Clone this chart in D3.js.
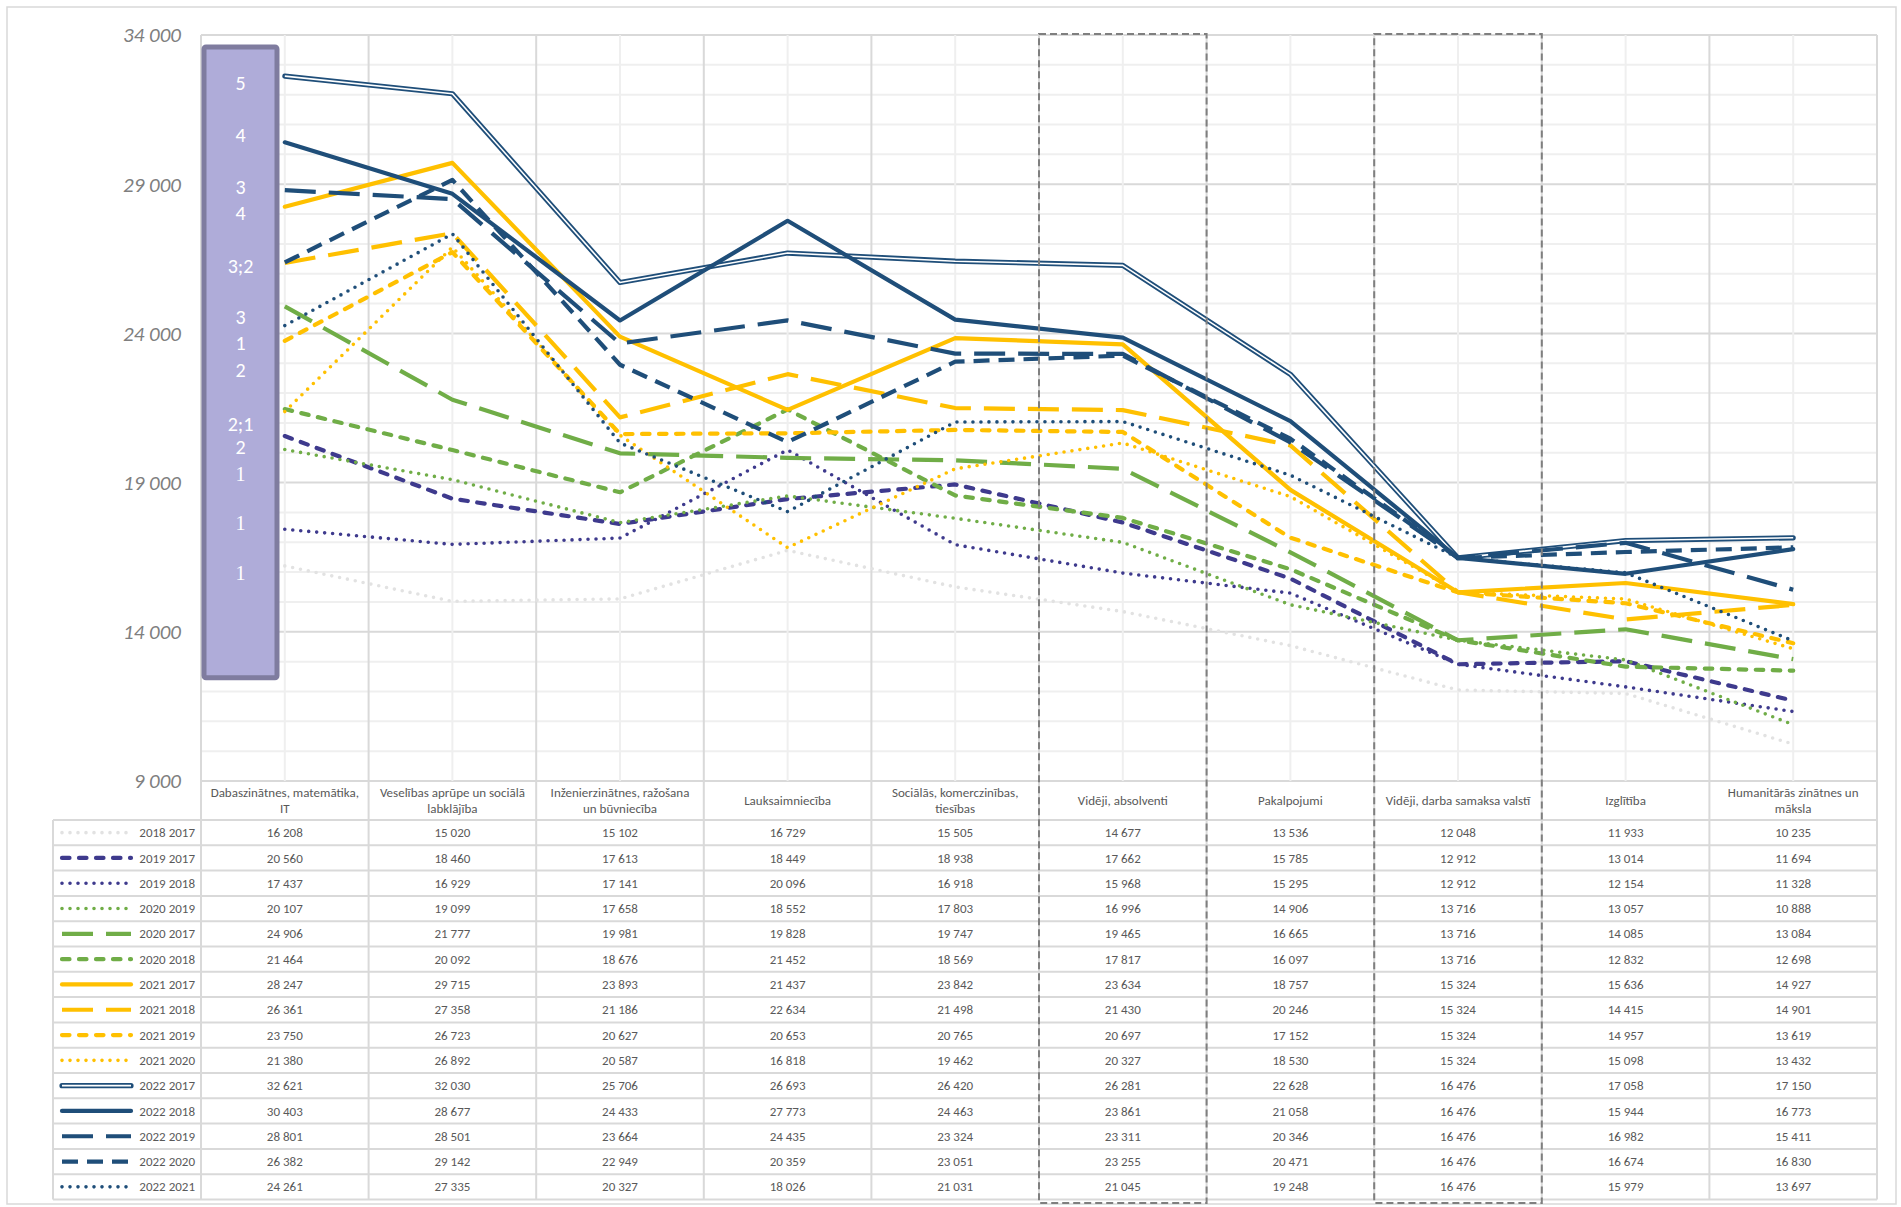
<!DOCTYPE html>
<html lang="lv">
<head>
  <meta charset="UTF-8">
  <title></title>
  <style>
    html, body {
      margin: 0;
      overflow: hidden;
      width: 100%;
      height: 100%;
      background: #fff;
    }

    svg {
      position: absolute;
      top: 0;
      left: 0;
      width: 1901px;
      height: 1207px;
      font-family: Carlito, Lato, 'Open Sans', sans-serif;
    }
  </style>
</head>
<body>
  <svg></svg>
</body>
<script src="https://d3js.org/d3.v7.min.js"></script>
<script type="text/javascript">
  const svg = d3.select('svg')

  const categories = [
    'Dabaszinātnes, matemātika,\nIT',
    'Veselības aprūpe un sociālā\nlabklājība',
    'Inženierzinātnes, ražošana\nun būvniecība',
    'Lauksaimniecība',
    'Sociālās, komerczinības,\ntiesības',
    'Vidēji, absolventi',
    'Pakalpojumi',
    'Vidēji, darba samaksa valstī',
    'Izglītība',
    'Humanitārās zinātnes un\nmāksla'
  ]

  const seriesNames = [
    '2018 2017', '2019 2017', '2019 2018', '2020 2019', '2020 2017',
    '2020 2018', '2021 2017', '2021 2018', '2021 2019', '2021 2020',
    '2022 2017', '2022 2018', '2022 2019', '2022 2020', '2022 2021'
  ]

  const s2018_2017 = [16208, 15020, 15102, 16729, 15505, 14677, 13536, 12048, 11933, 10235]
  const s2019_2017 = [20560, 18460, 17613, 18449, 18938, 17662, 15785, 12912, 13014, 11694]
  const s2019_2018 = [17437, 16929, 17141, 20096, 16918, 15968, 15295, 12912, 12154, 11328]
  const s2020_2019 = [20107, 19099, 17658, 18552, 17803, 16996, 14906, 13716, 13057, 10888]
  const s2020_2017 = [24906, 21777, 19981, 19828, 19747, 19465, 16665, 13716, 14085, 13084]
  const s2020_2018 = [21464, 20092, 18676, 21452, 18569, 17817, 16097, 13716, 12832, 12698]
  const s2021_2017 = [28247, 29715, 23893, 21437, 23842, 23634, 18757, 15324, 15636, 14927]
  const s2021_2018 = [26361, 27358, 21186, 22634, 21498, 21430, 20246, 15324, 14415, 14901]
  const s2021_2019 = [23750, 26723, 20627, 20653, 20765, 20697, 17152, 15324, 14957, 13619]
  const s2021_2020 = [21380, 26892, 20587, 16818, 19462, 20327, 18530, 15324, 15098, 13432]
  const s2022_2017 = [32621, 32030, 25706, 26693, 26420, 26281, 22628, 16476, 17058, 17150]
  const s2022_2018 = [30403, 28677, 24433, 27773, 24463, 23861, 21058, 16476, 15944, 16773]
  const s2022_2019 = [28801, 28501, 23664, 24435, 23324, 23311, 20346, 16476, 16982, 15411]
  const s2022_2020 = [26382, 29142, 22949, 20359, 23051, 23255, 20471, 16476, 16674, 16830]
  const s2022_2021 = [24261, 27335, 20327, 18026, 21031, 21045, 19248, 16476, 15979, 13697]

  const seriesValues = [
    s2018_2017, s2019_2017, s2019_2018, s2020_2019, s2020_2017,
    s2020_2018, s2021_2017, s2021_2018, s2021_2019, s2021_2020,
    s2022_2017, s2022_2018, s2022_2019, s2022_2020, s2022_2021
  ]

  const yTicks = [9000, 14000, 19000, 24000, 29000, 34000]

  // labels in the violet box, placed by value on the y axis
  const boxLabels = ['5', '4', '3', '4', '3;2', '3', '1', '2', '2;1', '2', '1', '1', '1']
  const boxLabelAt = [32390, 30650, 28900, 28030, 26250, 24540, 23670, 22760, 20980, 20180, 19300, 17660, 15980]

  // boxed (dashed) columns
  const highlighted = ['Vidēji, absolventi', 'Vidēji, darba samaksa valstī']

  // ---- styles ----
  const navy = '#1f4e79', yellow = '#ffc000', green = '#70ad47', violet = '#3e3a8d', lightGray = '#e2e2e2'
  const dot = { dash: '0,8', cap: 'round', w: 3.6 }
  const sysDash = { dash: '7.5,9.5', cap: 'round', w: 4.2 }
  const dash = { dash: '16,9', cap: 'butt', w: 4.2 }
  const lgDash = { dash: '31,13', cap: 'butt', w: 4.2 }
  const solid = { dash: null, cap: 'round', w: 4.2 }
  const styles = {
    '2018 2017': { color: lightGray, ...dot },
    '2019 2017': { color: violet, ...sysDash },
    '2019 2018': { color: violet, ...dot },
    '2020 2019': { color: green, ...dot },
    '2020 2017': { color: green, ...lgDash },
    '2020 2018': { color: green, ...sysDash },
    '2021 2017': { color: yellow, ...solid },
    '2021 2018': { color: yellow, ...lgDash },
    '2021 2019': { color: yellow, ...sysDash },
    '2021 2020': { color: yellow, ...dot },
    '2022 2017': { color: navy, ...solid, w: 5.2, double: true },
    '2022 2018': { color: navy, ...solid },
    '2022 2019': { color: navy, ...lgDash },
    '2022 2020': { color: navy, ...dash },
    '2022 2021': { color: navy, ...dot }
  }

  const plot = { left: 201, right: 1877, top: 35, bottom: 781 }
  const table = { left: 53, top: 820, rowH: 25.3 }
  const gridMajor = '#d9d9d9', gridMinor = '#efefef', textColor = '#595959'

  const x = d3.scaleBand().domain(categories).range([plot.left, plot.right])
  const bw = x.bandwidth()
  const cx = c => x(c) + bw / 2
  const y = d3.scaleLinear().domain([9000, 34000]).range([plot.bottom, plot.top])

  // outer frame
  svg.append('rect')
    .attr('x', 7).attr('y', 7).attr('width', 1889).attr('height', 1197)
    .attr('fill', 'none').attr('stroke', '#d9d9d9').attr('stroke-width', 1.5)

  // horizontal grid
  const g = svg.append('g')
  g.selectAll('line.h')
    .data(d3.range(9000, 34001, 1000))
    .enter().append('line')
    .attr('x1', plot.left).attr('x2', plot.right)
    .attr('y1', d => y(d)).attr('y2', d => y(d))
    .attr('stroke', d => d % 5000 === 4000 ? gridMajor : gridMinor)
    .attr('stroke-width', 2)

  // vertical grid: band centres (minor) and band edges (major)
  g.selectAll('line.vc')
    .data(categories)
    .enter().append('line')
    .attr('x1', cx).attr('x2', cx)
    .attr('y1', plot.top).attr('y2', plot.bottom)
    .attr('stroke', gridMinor).attr('stroke-width', 2)

  const tableBottom = table.top + table.rowH * seriesNames.length
  const edges = categories.map(c => x(c)).concat([plot.right])
  g.selectAll('line.ve')
    .data(edges)
    .enter().append('line')
    .attr('x1', d => d).attr('x2', d => d)
    .attr('y1', plot.top).attr('y2', tableBottom)
    .attr('stroke', gridMajor).attr('stroke-width', 2)

  // table lines
  g.selectAll('line.row')
    .data(d3.range(seriesNames.length + 1))
    .enter().append('line')
    .attr('x1', table.left).attr('x2', plot.right)
    .attr('y1', i => table.top + i * table.rowH).attr('y2', i => table.top + i * table.rowH)
    .attr('stroke', gridMajor).attr('stroke-width', 2)
  g.append('line')
    .attr('x1', table.left).attr('x2', table.left)
    .attr('y1', table.top).attr('y2', tableBottom)
    .attr('stroke', gridMajor).attr('stroke-width', 2)

  // y axis labels
  svg.selectAll('text.ytick')
    .data(yTicks)
    .enter().append('text')
    .attr('x', 181)
    .attr('y', d => y(d))
    .attr('dy', '0.35em')
    .attr('text-anchor', 'end')
    .attr('font-size', 21)
    .attr('font-style', 'italic')
    .attr('fill', '#7f7f7f')
    .text(d => d3.format(',')(d).replace(/,/g, ' '))

  // lines
  const lineGen = d3.line()
    .x((d, i) => cx(categories[i]))
    .y(d => y(d))

  const series = seriesNames.map((name, i) => ({ name, values: seriesValues[i], style: styles[name] }))

  const drawStroke = (sel, st) => {
    sel.attr('fill', 'none')
      .attr('stroke', st.color)
      .attr('stroke-width', st.w)
      .attr('stroke-linecap', st.cap)
      .attr('stroke-linejoin', 'round')
      .attr('stroke-dasharray', st.dash)
    return sel
  }

  const lines = svg.append('g')
  series.forEach(s => {
    drawStroke(lines.append('path').attr('d', lineGen(s.values)), s.style)
    if (s.style.double) {
      lines.append('path').attr('d', lineGen(s.values))
        .attr('fill', 'none').attr('stroke', '#fff').attr('stroke-width', 1.6)
        .attr('stroke-linejoin', 'round')
    }
  })

  // violet box with labels
  const box = svg.append('g')
  box.append('rect')
    .attr('x', plot.left + 3).attr('y', y(33600))
    .attr('width', 73).attr('height', y(12460) - y(33600))
    .attr('rx', 2)
    .attr('fill', '#afacd9').attr('stroke', '#7f7c9f').attr('stroke-width', 5)
  box.selectAll('text')
    .data(boxLabels)
    .enter().append('text')
    .attr('x', plot.left + 39.5)
    .attr('y', (d, i) => y(boxLabelAt[i]))
    .attr('dy', '0.35em')
    .attr('text-anchor', 'middle')
    .attr('font-size', 20)
    .attr('font-family', (d, i) => i >= 10 ? "'Liberation Serif', serif" : null)
    .attr('fill', '#fff')
    .text(d => d)

  // header (category names)
  const header = svg.append('g')
  categories.forEach(c => {
    const parts = c.split('\n')
    const midY = (plot.bottom + table.top) / 2
    const t = header.append('text')
      .attr('text-anchor', 'middle')
      .attr('font-size', 13)
      .attr('fill', textColor)
    parts.forEach((p, k) => {
      t.append('tspan')
        .attr('x', cx(c))
        .attr('y', midY + (k - (parts.length - 1) / 2) * 16.5)
        .attr('dy', '0.35em')
        .text(p)
    })
  })

  // table body
  const fmt = v => d3.format(',')(v).replace(/,/g, ' ')
  const body = svg.append('g')
  series.forEach((s, r) => {
    const rowY = table.top + (r + 0.5) * table.rowH
    body.selectAll(null)
      .data(s.values)
      .enter().append('text')
      .attr('x', (d, i) => cx(categories[i]))
      .attr('y', rowY)
      .attr('dy', '0.35em')
      .attr('text-anchor', 'middle')
      .attr('font-size', 13)
      .attr('fill', textColor)
      .text(fmt)

    body.append('text')
      .attr('x', 195).attr('y', rowY).attr('dy', '0.35em')
      .attr('text-anchor', 'end')
      .attr('font-size', 13)
      .attr('fill', textColor)
      .text(s.name)

    const sample = body.append('path').attr('d', `M62,${rowY}H131`)
    drawStroke(sample, s.style)
    if (s.style.double) {
      body.append('path').attr('d', `M62,${rowY}H131`)
        .attr('stroke', '#fff').attr('stroke-width', 1.6)
    }
  })

  // dashed frames around the average columns
  svg.selectAll('rect.hl')
    .data(highlighted)
    .enter().append('rect')
    .attr('x', d => x(d))
    .attr('y', plot.top - 1)
    .attr('width', bw)
    .attr('height', 1203 - plot.top + 1)
    .attr('fill', 'none')
    .attr('stroke', '#7f7f7f')
    .attr('stroke-width', 2)
    .attr('stroke-dasharray', '7,4')
</script>
</html>
